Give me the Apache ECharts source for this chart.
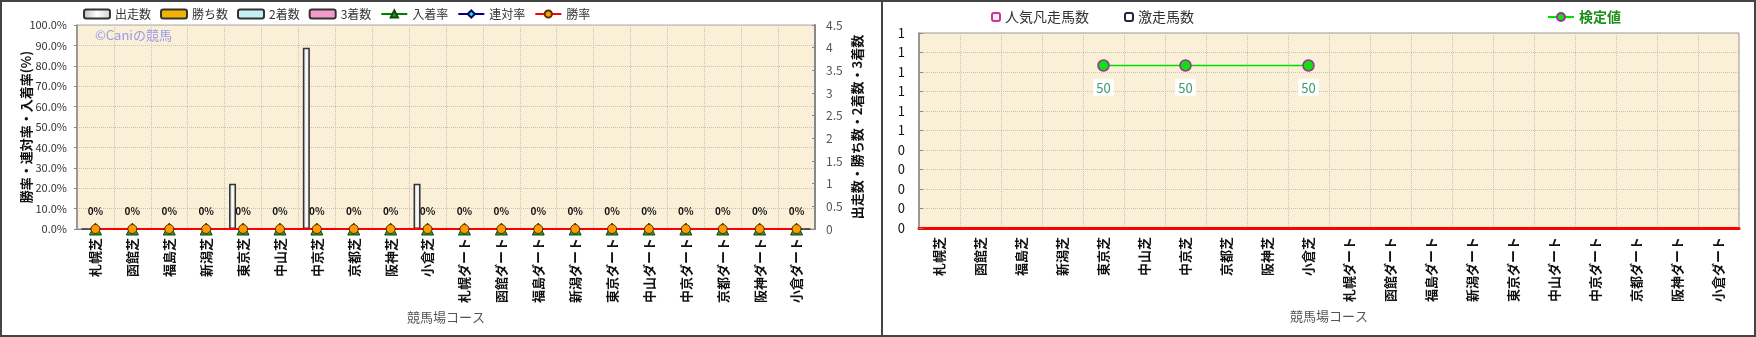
<!DOCTYPE html>
<html>
<head>
<meta charset="utf-8">
<script src="https://cdn.jsdelivr.net/npm/echarts@6/dist/echarts.min.js"></script>
<style>
html,body{margin:0;padding:0;background:#fff;}
#wrap{position:relative;width:1756px;height:337px;overflow:hidden;}
#left{position:absolute;left:0;top:0;width:882px;height:337px;}
#right{position:absolute;left:882px;top:0;width:874px;height:337px;}
#frame{position:absolute;left:0;top:0;width:1756px;height:337px;box-sizing:border-box;border:2px solid #444;pointer-events:none;}
#divider{position:absolute;left:881px;top:0;width:2px;height:337px;background:#444;pointer-events:none;}
</style>
</head>
<body>
<div id="wrap">
  <div id="left"></div>
  <div id="right"></div>
  <div id="frame"></div>
  <div id="divider"></div>
</div>
<script>
// Course categories (turf then dirt)
const courses = ['札幌芝','函館芝','福島芝','新潟芝','東京芝','中山芝','中京芝','京都芝','阪神芝','小倉芝',
  '札幌ダート','函館ダート','福島ダート','新潟ダート','東京ダート','中山ダート','中京ダート','京都ダート','阪神ダート','小倉ダート'];

// Counts per course
const starts  = [0,0,0,0,1,0,4,0,0,1, 0,0,0,0,0,0,0,0,0,0];
const wins    = [0,0,0,0,0,0,0,0,0,0, 0,0,0,0,0,0,0,0,0,0];
const seconds = [0,0,0,0,0,0,0,0,0,0, 0,0,0,0,0,0,0,0,0,0];
const thirds  = [0,0,0,0,0,0,0,0,0,0, 0,0,0,0,0,0,0,0,0,0];

// Rates per course (%)
const placeRate    = [0,0,0,0,0,0,0,0,0,0, 0,0,0,0,0,0,0,0,0,0];
const quinellaRate = [0,0,0,0,0,0,0,0,0,0, 0,0,0,0,0,0,0,0,0,0];
const winRate      = [0,0,0,0,0,0,0,0,0,0, 0,0,0,0,0,0,0,0,0,0];

// Second panel: horse counts and test values
const ninkiBonsou = [];
const gekisou = [];
const kenteiValue = [null,null,null,null,50,null,50,null,null,50, null,null,null,null,null,null,null,null,null,null];

// Axis ranges
const rateMax = 100, rateStep = 10;
const countMax = 4.5, countStep = 0.5;
const unitMax = 1, unitStep = 0.1;
const kenteiMax = 60;

const FONT = '"Noto Sans CJK JP", "Noto Sans", sans-serif';
const PAPER = '#faefd7';
const GRIDLINE = { show: true, lineStyle: { color: '#c9c2b4', type: 'dotted', width: 1 } };

const catLabel = { rotate: 90, margin: 9, color: '#111', fontSize: 13, fontFamily: FONT, fontWeight: 'bold', interval: 0 };

const barBorder = { borderColor: '#333', borderWidth: 1.5 };
const startsFill = new echarts.graphic.LinearGradient(0, 0, 1, 0, [
  { offset: 0, color: '#bdbdbd' }, { offset: 0.5, color: '#ffffff' }, { offset: 1, color: '#d0d0d0' }
]);

const leftChart = echarts.init(document.getElementById('left'), null, { renderer: 'canvas' });
leftChart.setOption({
  animation: false,
  textStyle: { fontFamily: FONT },
  legend: {
    left: 83, top: 8, padding: 0, itemWidth: 26, itemHeight: 9, itemGap: 9,
    textStyle: { fontSize: 12, color: '#333', fontFamily: FONT },
    data: ['出走数','勝ち数','2着数','3着数','入着率','連対率','勝率']
  },
  graphic: [{
    type: 'text', left: 95, top: 29,
    style: { text: '©Caniの競馬', fill: '#9a9af0', fontSize: 13, fontFamily: FONT }
  }],
  grid: { left: 77, right: 67, top: 25, bottom: 108, show: true, backgroundColor: PAPER, borderColor: '#aaa', borderWidth: 1 },
  xAxis: {
    type: 'category', data: courses,
    name: '競馬場コース', nameLocation: 'middle', nameGap: 77,
    nameTextStyle: { color: '#555', fontSize: 13, fontFamily: FONT },
    axisLine: { lineStyle: { color: '#888' } },
    axisTick: { show: false },
    axisLabel: catLabel,
    splitLine: GRIDLINE
  },
  yAxis: [{
    type: 'value', min: 0, max: rateMax, interval: rateStep,
    name: '勝率・連対率・入着率(%)', nameLocation: 'middle', nameGap: 44, nameRotate: 90,
    nameMoveOverlap: false,
    nameTextStyle: { color: '#111', fontSize: 13, fontWeight: 'bold', fontFamily: FONT },
    axisLine: { show: true, lineStyle: { color: '#888', width: 1.5 } },
    axisTick: { show: true, length: 3, lineStyle: { color: '#888' } },
    axisLabel: { formatter: v => v.toFixed(1) + '%', color: '#333', fontSize: 11, margin: 10, fontFamily: FONT },
    splitLine: GRIDLINE
  }, {
    type: 'value', min: 0, max: countMax, interval: countStep,
    name: '出走数・勝ち数・2着数・3着数', nameLocation: 'middle', nameGap: 36, nameRotate: 90,
    nameMoveOverlap: false,
    nameTextStyle: { color: '#111', fontSize: 13, fontWeight: 'bold', fontFamily: FONT },
    axisLine: { show: true, lineStyle: { color: '#888', width: 2 } },
    axisTick: { show: true, inside: true, length: 3, lineStyle: { color: '#888' } },
    axisLabel: { color: '#555', fontSize: 12, margin: 11, fontFamily: FONT },
    splitLine: { show: false }
  }],
  series: [
    { name: '出走数', type: 'bar', yAxisIndex: 1, data: starts, barWidth: 7, barGap: '0%',
      itemStyle: Object.assign({ color: startsFill }, barBorder) },
    { name: '勝ち数', type: 'bar', yAxisIndex: 1, data: wins, barWidth: 7, barGap: '0%',
      itemStyle: Object.assign({ color: '#f0b400' }, barBorder) },
    { name: '2着数', type: 'bar', yAxisIndex: 1, data: seconds, barWidth: 7, barGap: '0%',
      itemStyle: Object.assign({ color: '#c4f0f0' }, barBorder) },
    { name: '3着数', type: 'bar', yAxisIndex: 1, data: thirds, barWidth: 7, barGap: '0%',
      itemStyle: Object.assign({ color: '#f49ac8' }, barBorder) },
    { name: '入着率', type: 'line', data: placeRate, symbol: 'triangle', symbolSize: 12,
      lineStyle: { color: '#008000', width: 2 },
      itemStyle: { color: '#2a9a2a', borderColor: '#0a4a0a', borderWidth: 1 } },
    { name: '連対率', type: 'line', data: quinellaRate, symbol: 'diamond', symbolSize: 10,
      lineStyle: { color: '#000080', width: 2 },
      itemStyle: { color: '#20e0e0', borderColor: '#000060', borderWidth: 1 } },
    { name: '勝率', type: 'line', data: winRate, symbol: 'circle', symbolSize: 9,
      lineStyle: { color: '#ff0000', width: 2 },
      itemStyle: { color: '#ff9a00', borderColor: '#5a3000', borderWidth: 1 },
      label: { show: true, position: 'top', distance: 8, formatter: p => p.value + '%',
        fontSize: 10, fontWeight: 'bold', color: '#111', fontFamily: FONT } }
  ]
});

const rightChart = echarts.init(document.getElementById('right'), null, { renderer: 'canvas' });
rightChart.setOption({
  animation: false,
  textStyle: { fontFamily: FONT },
  legend: [{
    left: 109, top: 10, padding: 0, itemWidth: 8, itemHeight: 8, itemGap: 35,
    textStyle: { fontSize: 14, color: '#333', fontFamily: FONT },
    data: ['人気凡走馬数','激走馬数']
  }, {
    left: 665, top: 10, padding: 0, itemWidth: 26, itemHeight: 10,
    textStyle: { fontSize: 14, color: '#1a8f1a', fontWeight: 'bold', fontFamily: FONT },
    data: ['検定値']
  }],
  grid: { left: 37, right: 17, top: 33, bottom: 109, show: true, backgroundColor: PAPER, borderColor: '#999', borderWidth: 1 },
  xAxis: {
    type: 'category', data: courses,
    name: '競馬場コース', nameLocation: 'middle', nameGap: 80,
    nameTextStyle: { color: '#555', fontSize: 13, fontFamily: FONT },
    axisLine: { lineStyle: { color: '#ff0000', width: 3 } },
    axisTick: { show: false },
    axisLabel: catLabel,
    splitLine: GRIDLINE
  },
  yAxis: [{
    type: 'value', min: 0, max: unitMax, interval: unitStep,
    axisLine: { show: true, lineStyle: { color: '#888', width: 1.5 } },
    axisTick: { show: true, inside: true, length: 4, lineStyle: { color: '#888' } },
    axisLabel: { formatter: v => String(Math.round(v)), color: '#111', fontSize: 13, margin: 14, fontFamily: FONT },
    splitLine: GRIDLINE
  }, {
    type: 'value', min: 0, max: kenteiMax, show: false, splitLine: { show: false }
  }],
  series: [
    { name: '人気凡走馬数', type: 'bar', data: ninkiBonsou,
      itemStyle: { color: '#fff0fa', borderColor: '#cc3399', borderWidth: 1.5 } },
    { name: '激走馬数', type: 'bar', data: gekisou,
      itemStyle: { color: '#ffffff', borderColor: '#222244', borderWidth: 1.5 } },
    { name: '検定値', type: 'line', yAxisIndex: 1, data: kenteiValue, connectNulls: true,
      symbol: 'circle', symbolSize: 11,
      lineStyle: { color: '#00e000', width: 1.5 },
      itemStyle: { color: '#10e010', borderColor: '#993399', borderWidth: 1.5 },
      label: { show: true, position: 'bottom', distance: 7, color: '#3a9a6a', fontSize: 13, fontFamily: FONT,
        backgroundColor: '#ffffff', padding: [3, 3, 1, 3] } }
  ]
});
</script>
</body>
</html>
